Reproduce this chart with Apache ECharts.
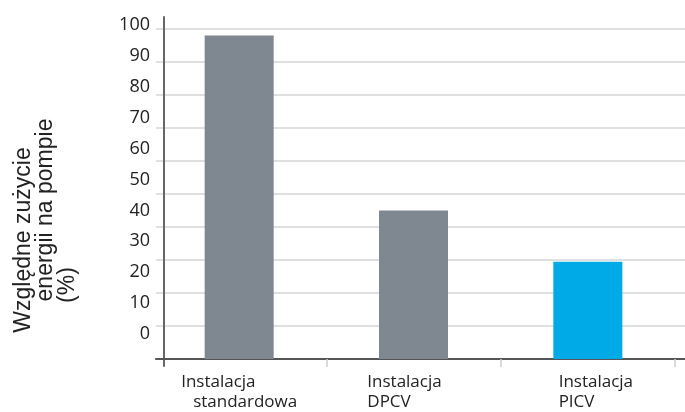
<!DOCTYPE html>
<html>
<head>
<meta charset="utf-8">
<script src="https://cdn.jsdelivr.net/npm/echarts@6/dist/echarts.min.js"></script>
<style>
  html, body { margin: 0; padding: 0; background: #fff; }
  #box { width: 685px; height: 412px; }
</style>
</head>
<body>
<div id="box"></div>
<script>
var chart = echarts.init(document.getElementById("box"));

// dane
var kategorie = ['Instalacja standardowa', 'Instalacja DPCV', 'Instalacja PICV'];
var linia1 = ['Instalacja', 'Instalacja', 'Instalacja'];
var linia2 = ['standardowa', 'DPCV', 'PICV'];
var wartosci = [98, 45, 29.5];
var osY = [0, 10, 20, 30, 40, 50, 60, 70, 80, 90, 100];
var tytulY = ['Względne zużycie', 'energii na pompie', '(%)'];

var SZARY = '#7f8891';
var NIEBIESKI = '#00aae6';
var fontOpen = '"Open Sans", "Noto Sans", sans-serif';

function hidden() {
  return { show: false };
}

var option = {
  animation: false,
  backgroundColor: '#fff',
  grid: [
    // linie siatki + os X
    { left: 156, right: 0, top: 29, bottom: 53 },
    // slupki
    { left: 152, right: 10, top: 29, bottom: 53 },
    // linia osi Y
    { left: 164, right: 0, top: 17, bottom: 46 },
    // etykiety osi Y (przesuniete jak w oryginale)
    { left: 164, right: 0, top: 25, bottom: 78 }
  ],
  xAxis: [
    { gridIndex: 0, type: 'value', min: 0, max: 1,
      axisLine: { show: true, lineStyle: { color: '#555', width: 2 } },
      axisTick: hidden(), axisLabel: hidden(), splitLine: hidden() },
    { gridIndex: 1, type: 'category', data: kategorie,
      axisLine: hidden(),
      axisTick: { show: true, length: 8, lineStyle: { color: '#cfcfcf', width: 1.5 },
        interval: function (i) { return i !== 0; } },
      axisLabel: {
        margin: 13,
        align: 'center',
        formatter: function (v, i) {
          if (i === 0) return '{a|' + linia1[i] + '}\n{ind|' + linia2[i] + '}';
          if (i === 1) return '{p2|' + linia1[i] + '}\n{p2|' + linia2[i] + '}';
          return '{p3|' + linia1[i] + '}\n{p3|' + linia2[i] + '}';
        },
        rich: {
          a:   { fontFamily: fontOpen, fontSize: 17, color: '#222', lineHeight: 20, align: 'left' },
          ind: { fontFamily: fontOpen, fontSize: 17, color: '#222', lineHeight: 20, align: 'left', padding: [0, 0, 0, 12] },
          p2:  { fontFamily: fontOpen, fontSize: 17, color: '#222', lineHeight: 20, align: 'left', padding: [0, 18, 0, 0] },
          p3:  { fontFamily: fontOpen, fontSize: 17, color: '#222', lineHeight: 20, align: 'left', padding: [0, 0, 0, 16] }
        }
      },
      splitLine: hidden() },
    { gridIndex: 2, type: 'value', show: false },
    { gridIndex: 3, type: 'value', show: false }
  ],
  yAxis: [
    { gridIndex: 0, type: 'value', min: 0, max: 100, interval: 10,
      axisLine: hidden(), axisTick: hidden(), axisLabel: hidden(),
      splitLine: { show: true, lineStyle: { color: '#d6d6d6', width: 1.5 } } },
    { gridIndex: 1, type: 'value', min: 0, max: 100, interval: 10, show: false },
    { gridIndex: 2, type: 'value', min: 0, max: 1,
      axisLine: { show: true, lineStyle: { color: '#666', width: 2 } },
      axisTick: hidden(), axisLabel: hidden(), splitLine: hidden() },
    { gridIndex: 3, type: 'value', min: osY[0], max: osY[osY.length - 1], interval: 10,
      axisLine: hidden(), axisTick: hidden(), splitLine: hidden(),
      axisLabel: { margin: 14, fontFamily: fontOpen, fontSize: 18, color: '#222',
        formatter: function (v) { return osY.indexOf(v) >= 0 ? String(v) : ''; } } }
  ],
  series: [{
    type: 'bar',
    xAxisIndex: 1,
    yAxisIndex: 1,
    barWidth: 69,
    data: wartosci.map(function (v, i) {
      return { value: v, itemStyle: { color: i === 2 ? NIEBIESKI : SZARY } };
    })
  }],
  graphic: [
    { type: 'text', x: 24, y: 240, rotation: Math.PI / 2,
      style: { text: tytulY[0], font: '23px "Liberation Sans", Arial, sans-serif', fill: '#222', align: 'center', verticalAlign: 'middle' } },
    { type: 'text', x: 46, y: 210, rotation: Math.PI / 2,
      style: { text: tytulY[1], font: '23px "Liberation Sans", Arial, sans-serif', fill: '#222', align: 'center', verticalAlign: 'middle' } },
    { type: 'text', x: 68, y: 285, rotation: Math.PI / 2,
      style: { text: tytulY[2], font: '23px "Liberation Sans", Arial, sans-serif', fill: '#222', align: 'center', verticalAlign: 'middle' } }
  ]
};

chart.setOption(option);
</script>
</body>
</html>
